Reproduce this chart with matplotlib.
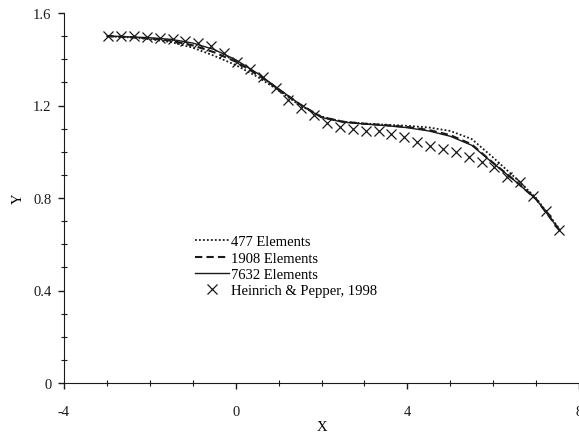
import numpy as np
import matplotlib
matplotlib.use('Agg')
import matplotlib.pyplot as plt
from matplotlib.ticker import MultipleLocator

plt.rcParams['font.family'] = ['Liberation Serif', 'DejaVu Serif']
plt.rcParams['font.size'] = 10.5
plt.rcParams['axes.unicode_minus'] = False

# numerical results (x shared by the three meshes)
x_fem = [-3.0, -2.5, -2.0, -1.5, -1.0, -0.5, 0.0, 0.5, 1.0, 1.5, 2.0, 2.5,
         3.0, 3.5, 4.0, 4.5, 5.0, 5.5, 6.0, 6.5, 7.0, 7.55]
y_477 = [1.500, 1.495, 1.487, 1.474, 1.450, 1.415, 1.375, 1.325, 1.265, 1.200,
         1.152, 1.130, 1.122, 1.117, 1.112, 1.105, 1.090, 1.055, 0.975, 0.890,
         0.800, 0.665]
y_1908 = [1.500, 1.496, 1.490, 1.480, 1.460, 1.430, 1.390, 1.335, 1.270, 1.205,
          1.150, 1.130, 1.121, 1.115, 1.107, 1.094, 1.072, 1.032, 0.952, 0.876,
          0.795, 0.660]
y_7632 = [1.500, 1.497, 1.493, 1.486, 1.470, 1.442, 1.398, 1.340, 1.272, 1.205,
          1.148, 1.128, 1.120, 1.113, 1.104, 1.090, 1.067, 1.028, 0.950, 0.875,
          0.795, 0.660]

# Heinrich & Pepper, 1998
x_hp = [-2.97, -2.67, -2.37, -2.07, -1.77, -1.47, -1.17, -0.87, -0.57, -0.27,
        0.03, 0.33, 0.63, 0.93, 1.23, 1.53, 1.83, 2.13, 2.43, 2.73, 3.03, 3.33,
        3.63, 3.93, 4.23, 4.53, 4.83, 5.13, 5.43, 5.73, 6.03, 6.33, 6.63, 6.93,
        7.23, 7.53]
y_hp = [1.500, 1.500, 1.499, 1.497, 1.493, 1.487, 1.479, 1.472, 1.457, 1.425,
        1.390, 1.358, 1.325, 1.275, 1.225, 1.190, 1.160, 1.125, 1.107, 1.098,
        1.090, 1.088, 1.077, 1.064, 1.042, 1.025, 1.012, 0.997, 0.977, 0.956,
        0.934, 0.891, 0.869, 0.809, 0.744, 0.660]

c = '#1a1a1a'
fig = plt.figure(figsize=(5.79, 4.35), dpi=100)
ax = fig.add_axes([64/579, 1-384/435, 515/579, 370/435])

ax.plot(x_fem, y_477, color=c, lw=1.3, ls=(0, (1, 1.2)), label='477 Elements')
ax.plot(x_fem, y_1908, color=c, lw=1.5, ls=(0, (3.5, 2)), label='1908 Elements')
ax.plot(x_fem, y_7632, color=c, lw=1.0, ls='-', label='7632 Elements')
ax.plot(x_hp, y_hp, ls='none', marker='x', ms=6.5, mew=0.9, color=c,
        label='Heinrich & Pepper, 1998')

ax.set_xlim(-4, 8)
ax.set_ylim(0, 1.6)
ax.xaxis.set_major_locator(MultipleLocator(4))
ax.xaxis.set_minor_locator(MultipleLocator(1))
ax.yaxis.set_major_locator(MultipleLocator(0.4))
ax.yaxis.set_minor_locator(MultipleLocator(0.1))
ax.yaxis.set_major_formatter(plt.FuncFormatter(lambda v, p: '0' if v == 0 else '%.1f' % v))
ax.tick_params(which='major', direction='out', length=4, width=1, colors=c, pad=5)
ax.tick_params(which='minor', direction='inout', length=4, width=0.8, colors=c)
ax.tick_params(axis='x', which='major', pad=12)
for s in ['top', 'right']:
    ax.spines[s].set_visible(False)
for s in ['left', 'bottom']:
    ax.spines[s].set_color(c)
ax.set_xlabel('X', labelpad=1)
ax.set_ylabel('Y', labelpad=6)

ax.legend(loc='upper left', bbox_to_anchor=(188/579, 1-229/435), bbox_transform=fig.transFigure,
          frameon=False, borderpad=0, handlelength=2.3, handletextpad=0.15,
          labelspacing=0.2, fontsize=10.5)

fig.savefig('out.png', dpi=100)
